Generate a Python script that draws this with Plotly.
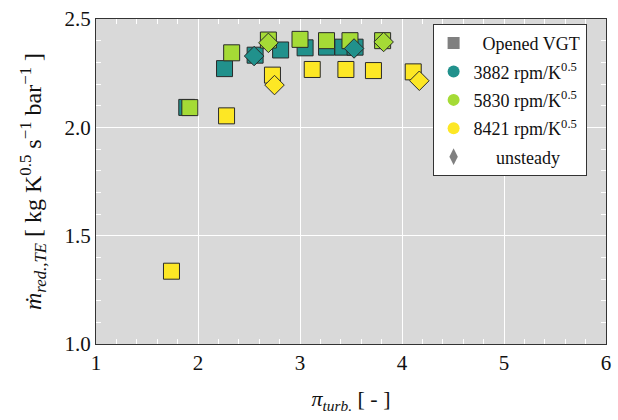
import plotly.graph_objects as go

# Turbine pressure ratio vs reduced mass flow, opened VGT
# steady operating points per corrected speed
pi_3882 = [1.89, 2.26, 2.56, 2.81, 3.05, 3.26, 3.42, 3.54]
m_3882 = [2.092, 2.271, 2.333, 2.357, 2.367, 2.37, 2.37, 2.37]

pi_5830 = [1.92, 2.33, 2.69, 3.00, 3.26, 3.49, 3.81]
m_5830 = [2.091, 2.344, 2.403, 2.406, 2.40, 2.40, 2.40]

pi_8421 = [1.74, 2.28, 2.73, 3.12, 3.45, 3.72, 4.11]
m_8421 = [1.336, 2.053, 2.241, 2.267, 2.267, 2.262, 2.256]

# unsteady (pulsating) operating points
pi_uns_3882 = [2.55, 3.53]
m_uns_3882 = [2.329, 2.364]
pi_uns_5830 = [2.69, 3.82]
m_uns_5830 = [2.39, 2.394]
pi_uns_8421 = [2.75, 4.17]
m_uns_8421 = [2.195, 2.215]

speed_labels = ["3882 rpm/K<sup>0.5</sup>", "5830 rpm/K<sup>0.5</sup>", "8421 rpm/K<sup>0.5</sup>"]
colors = ["#21918c", "#a5db36", "#fde725"]
edge = "#2a2a2a"
serif = "Liberation Serif"

fig = go.Figure()

steady = [(pi_3882, m_3882), (pi_5830, m_5830), (pi_8421, m_8421)]
unsteady = [(pi_uns_3882, m_uns_3882), (pi_uns_5830, m_uns_5830), (pi_uns_8421, m_uns_8421)]

for (xs, ys), c in zip(steady, colors):
    fig.add_trace(go.Scatter(
        x=xs, y=ys, mode="markers", showlegend=False,
        marker=dict(symbol="square", size=16, color=c, line=dict(color=edge, width=1)),
    ))
for (xs, ys), c in zip(unsteady, colors):
    fig.add_trace(go.Scatter(
        x=xs, y=ys, mode="markers", showlegend=False,
        marker=dict(symbol="diamond", size=15, color=c, line=dict(color=edge, width=1)),
    ))

# legend entries, one group each so the rows get extra spacing
fig.add_trace(go.Scatter(x=[None], y=[None], mode="markers", name="  Opened VGT",
                         legendgroup="g0",
                         marker=dict(symbol="square", size=11, color="#808080")))
for i, (lab, c) in enumerate(zip(speed_labels, colors)):
    fig.add_trace(go.Scatter(x=[None], y=[None], mode="markers", name=lab,
                             legendgroup=f"g{i + 1}",
                             marker=dict(symbol="circle", size=11, color=c)))
fig.add_trace(go.Scatter(x=[None], y=[None], mode="markers", name="     unsteady",
                         legendgroup="g4",
                         marker=dict(symbol="diamond-tall", size=13, color="#808080")))

axis_common = dict(
    showline=True, linecolor="#333333", linewidth=1, mirror="allticks",
    gridcolor="white", gridwidth=1.2, zeroline=False,
    ticks="", tickfont=dict(family=serif, size=21, color="#111111"),
)

fig.update_xaxes(
    range=[1, 6], dtick=1, tick0=1,
    minor=dict(dtick=0.2, ticks="inside", ticklen=5, tickcolor="white", showgrid=False),
    title=dict(text="<i>π</i><sub><i>turb.</i></sub> [ - ]",
               font=dict(family=serif, size=22, color="#111111"), standoff=16),
    **axis_common,
)
fig.update_yaxes(
    range=[1.0, 2.5], dtick=0.5, tick0=1.0, tickformat=".1f",
    minor=dict(dtick=0.1, ticks="inside", ticklen=5, tickcolor="white", showgrid=False),
    title=dict(text="<i>ṁ</i><sub><i>red.,TE</i></sub> [ kg K<sup>0.5</sup> s<sup>−1</sup> bar<sup>−1</sup> ]",
               font=dict(family=serif, size=24, color="#111111"), standoff=16),
    **axis_common,
)

fig.update_layout(
    width=618, height=420,
    margin=dict(l=96, r=7, t=15, b=76),
    paper_bgcolor="white", plot_bgcolor="#d9d9d9",
    font=dict(family=serif, color="#111111"),
    legend=dict(
        x=0.66, y=0.985, xanchor="left", yanchor="top",
        bgcolor="white", bordercolor="#333333", borderwidth=1,
        font=dict(family=serif, size=18, color="#111111"),
        itemsizing="constant", tracegroupgap=2, traceorder="grouped",
    ),
)

fig.write_html("out.html")
